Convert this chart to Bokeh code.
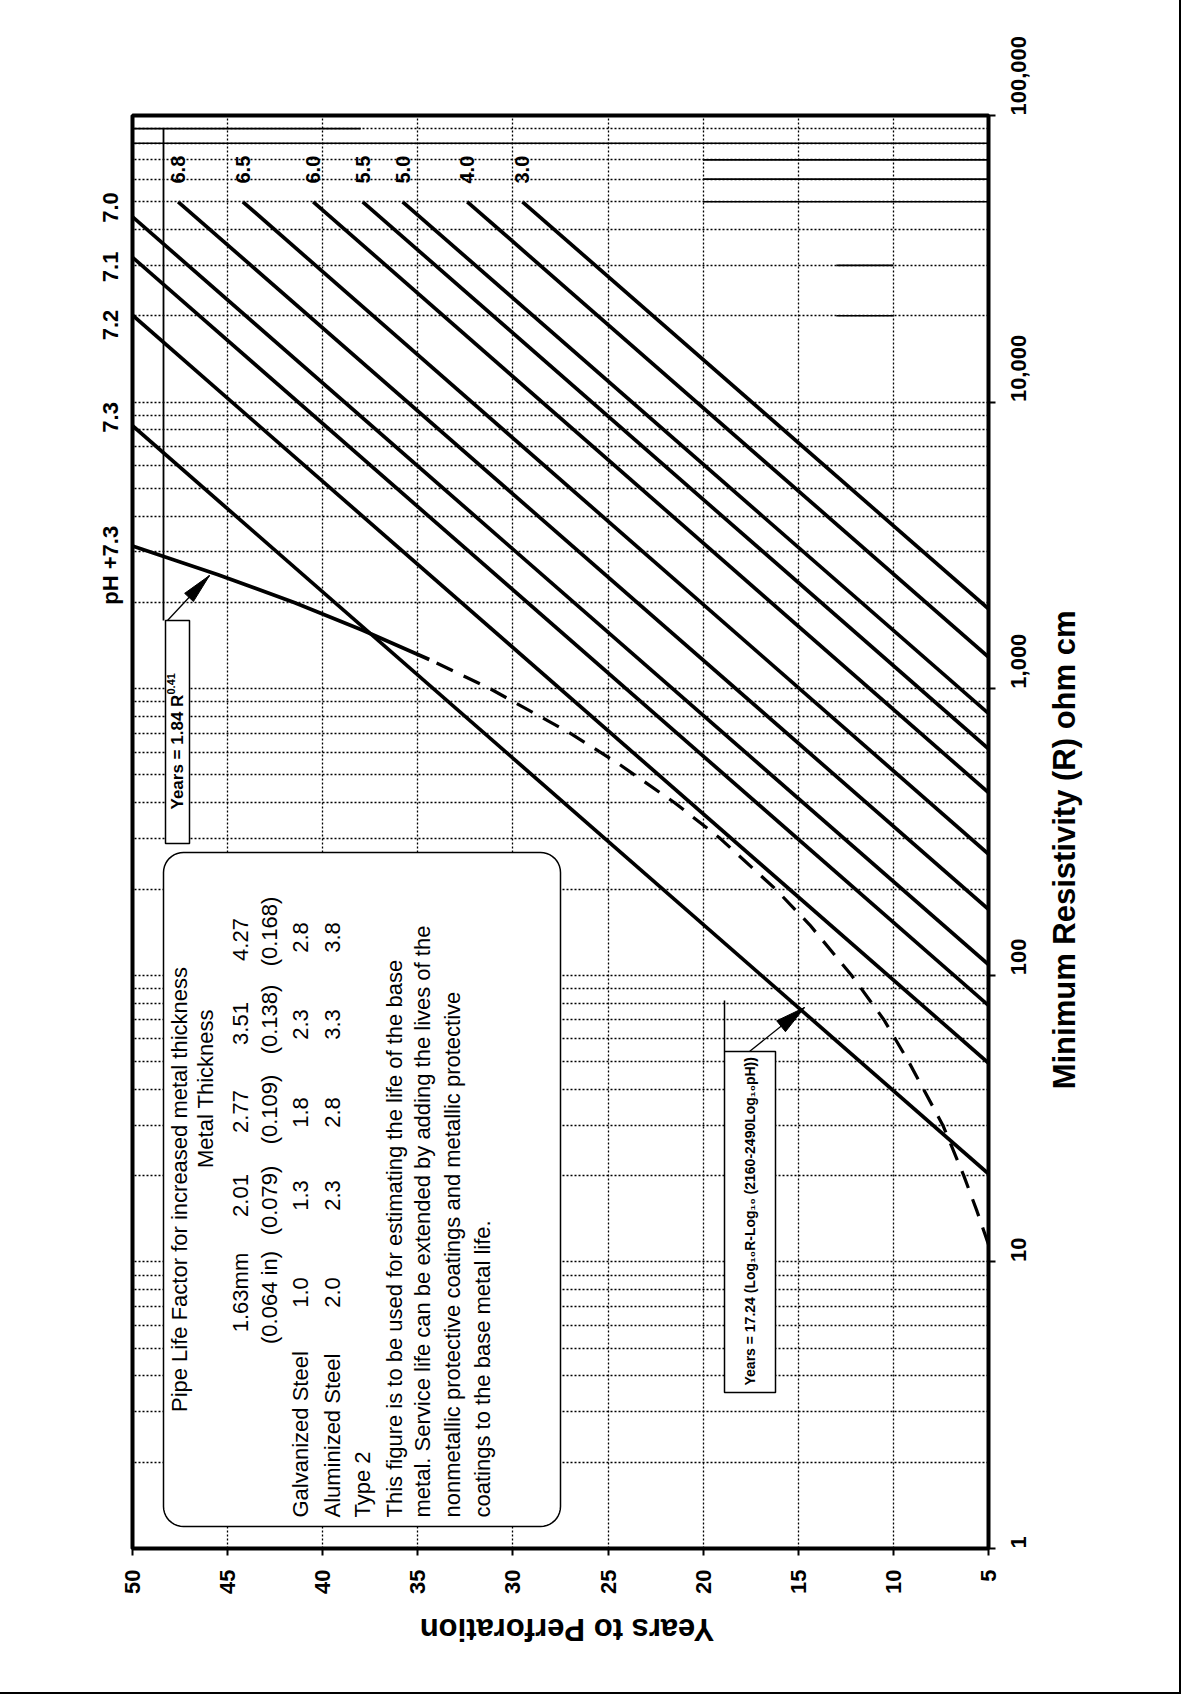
import math
from bokeh.plotting import figure
from bokeh.models import Range1d, FixedTicker, NumeralTickFormatter, LinearAxis, LogAxis
from bokeh.core.properties import value
from bokeh.embed import file_html
from bokeh.resources import INLINE

# ---------------- data ----------------
years_ticks = [50, 45, 40, 35, 30, 25, 20, 15, 10, 5]
resist_ticks = [1, 10, 100, 1000, 10000, 100000]
resist_tick_labels = ["1", "10", "100", "1,000", "10,000", "100,000"]

# straight pH lines: start (years, R) -> end (years, R)
ph_labels = ["3.0", "4.0", "5.0", "5.5", "6.0", "6.5", "6.8", "7.0", "7.1", "7.2", "7.3"]
ph_start_years = [29.5, 32.4, 35.8, 37.9, 40.5, 44.2, 47.6, 50.0, 50.0, 50.0, 50.0]
ph_start_R = [50000, 50000, 50000, 50000, 50000, 50000, 50000, 44300, 32000, 20100, 8270]
ph_end_years = [5.0, 5.0, 5.0, 5.0, 5.0, 5.0, 5.0, 5.0, 5.0, 5.0, 5.0]
ph_end_R = [1900, 1290, 820, 617, 434, 265, 170, 109, 78.5, 49.4, 20.3]

inner_label_names = ["6.8", "6.5", "6.0", "5.5", "5.0", "4.0", "3.0"]
inner_label_years = [47.6, 44.2, 40.5, 37.9, 35.8, 32.4, 29.5]

outer_label_names = ["7.0", "7.1", "7.2", "7.3", "pH +7.3"]
outer_label_R = [54000, 33500, 21000, 10000, 3700]

# Years = 1.84 R^0.41 curve
curve_solid_R = [1265, 1600, 2000, 2500, 3150]
curve_solid_years = [34.4, 37.9, 41.5, 45.5, 50.0]
curve_dash_R = [11.5, 15, 20, 30, 50, 70, 100, 150, 200, 300, 400, 550, 700, 1000, 1265]
curve_dash_years = [5.0, 5.6, 6.3, 7.4, 9.2, 10.5, 12.2, 14.4, 16.2, 19.1, 21.5, 24.5, 27.0, 31.2, 34.4]

# solid horizontal rules printed on the chart
rule_R = [90000, 80000, 70000, 60000, 50000, 30000, 20000]
rule_from_years = [50, 50, 20, 20, 20, 13, 13]
rule_to_years = [38, 5, 5, 5, 5, 10, 10]

# table
thickness_mm = ["1.63mm", "2.01", "2.77", "3.51", "4.27"]
thickness_in = ["(0.064 in)", "(0.079)", "(0.109)", "(0.138)", "(0.168)"]
galvanized = ["1.0", "1.3", "1.8", "2.3", "2.8"]
aluminized = ["2.0", "2.3", "2.8", "3.3", "3.8"]

x_title = "Years to Perforation"
y_title = "Minimum Resistivity (R) ohm cm"

# ---------------- layout helpers (page pixels -> data) ----------------
FL, FR, FT, FB = 140, 996, 123, 1556
W, H = 1176, 1689


def X(px):
    return 50 - (px - FL) * 45.0 / (FR - FL)


def Y(py):
    return 10 ** ((FB - py) * 5.0 / (FB - FT))


FONT = "Liberation Sans"
BLACK = "#000000"

p = figure(width=W, height=H, x_range=Range1d(50, 5), y_range=Range1d(1, 100000),
           y_axis_type="log", y_axis_location="right", x_axis_location="below",
           output_backend="svg", toolbar_location=None,
           min_border_left=FL - 8, min_border_right=W - (FR - 8),
           min_border_top=FT - 8, min_border_bottom=H - (FB - 8))
p.background_fill_color = "white"
p.border_fill_color = "white"
p.outline_line_color = BLACK
p.outline_line_width = 4
p.styles = {"outline": "2px solid black", "outline-offset": "3px"}


def style_axis(ax, size="22px", standoff=14, ticks=True):
    ax.major_label_text_font = FONT
    ax.major_label_text_font_style = "bold"
    ax.major_label_text_font_size = size
    ax.major_label_text_color = BLACK
    ax.major_label_standoff = standoff
    ax.minor_tick_line_color = None
    if ticks:
        ax.major_tick_out = 7
        ax.major_tick_in = 0
        ax.major_tick_line_width = 2
        ax.axis_line_width = 3
    else:
        ax.major_tick_line_color = None
        ax.axis_line_color = None


xa = p.xaxis[0]
xa.ticker = FixedTicker(ticks=years_ticks, minor_ticks=[])
xa.major_label_orientation = math.pi / 2
style_axis(xa, standoff=14)

ya = p.yaxis[0]
ya.ticker = FixedTicker(ticks=resist_ticks, minor_ticks=[])
ya.formatter = NumeralTickFormatter(format="0,0")
ya.major_label_overrides = {t: l for t, l in zip(resist_ticks, resist_tick_labels)}
ya.major_label_orientation = math.pi / 2
style_axis(ya, standoff=23)

# pH labels in the left margin (as an axis of their own)
left_ax = LogAxis(ticker=FixedTicker(ticks=outer_label_R, minor_ticks=[]),
                  major_label_overrides={r: n for r, n in zip(outer_label_R, outer_label_names)},
                  major_label_orientation=math.pi / 2)
style_axis(left_ax, size="22px", standoff=16, ticks=False)
p.add_layout(left_ax, "left")

# axis titles (upside-down bottom title, bottom-to-top right title);
# the label is anchored at one end, so the tick sits at that end
XT_TICK = 34.9
xt = LinearAxis(ticker=FixedTicker(ticks=[XT_TICK], minor_ticks=[]),
                major_label_overrides={XT_TICK: x_title}, major_label_orientation=math.pi)
style_axis(xt, size="31px", standoff=27, ticks=False)
p.add_layout(xt, "below")

YT_TICK = 40
yt = LogAxis(ticker=FixedTicker(ticks=[YT_TICK], minor_ticks=[]),
             major_label_overrides={YT_TICK: y_title}, major_label_orientation=math.pi / 2)
style_axis(yt, size="31px", standoff=22, ticks=False)
p.add_layout(yt, "right")

grid_years = [45, 40, 35, 30, 25, 20, 15, 10]
grid_R = [m * 10 ** k for k in range(0, 5) for m in range(1, 10)]
p.xgrid.ticker = FixedTicker(ticks=grid_years)
p.ygrid.ticker = FixedTicker(ticks=grid_R)
for g in (p.xgrid[0], p.ygrid[0]):
    g.grid_line_color = BLACK
    g.grid_line_dash = "2 2"
    g.grid_line_width = 1.3
    g.grid_line_alpha = 1.0

# solid rules
p.segment(x0=rule_from_years, y0=rule_R, x1=rule_to_years, y1=rule_R,
          line_color=BLACK, line_width=1.6)

# pH lines
p.segment(x0=ph_start_years, y0=ph_start_R, x1=ph_end_years, y1=ph_end_R,
          line_color=BLACK, line_width=3.7)

# curve
p.line(curve_solid_years, curve_solid_R, line_color=BLACK, line_width=3.7)
p.line(curve_dash_years, curve_dash_R, line_color=BLACK, line_width=3.2, line_dash="18 12")

# vertical leader line to first box
p.line([X(171), X(171)], [90000, Y(628)], line_color=BLACK, line_width=1.8)


def rounded_rect(x0, y0, x1, y1, r, n=10):
    pts = []
    corners = [(x1 - r, y0 + r, -90, 0), (x1 - r, y1 - r, 0, 90),
               (x0 + r, y1 - r, 90, 180), (x0 + r, y0 + r, 180, 270)]
    for cx, cy, a0, a1 in corners:
        for i in range(n + 1):
            a = math.radians(a0 + (a1 - a0) * i / n)
            pts.append((cx + r * math.cos(a), cy + r * math.sin(a)))
    return [X(a) for a, b in pts], [Y(b) for a, b in pts]


def arrow(sx, sy, tx, ty, length, half):
    p.line([X(sx), X(tx)], [Y(sy), Y(ty)], line_color=BLACK, line_width=1.3)
    dx, dy = tx - sx, ty - sy
    L = math.hypot(dx, dy)
    ux, uy = dx / L, dy / L
    bx, by = tx - length * ux, ty - length * uy
    nx, ny = -uy, ux
    pts = [(tx, ty), (bx + half * nx, by + half * ny), (bx - half * nx, by - half * ny)]
    p.patch([X(a) for a, b in pts], [Y(b) for a, b in pts], fill_color=BLACK, line_color=BLACK)


# box 1 : Years = 1.84 R^0.41
p.quad(left=X(173), right=X(197), top=Y(628), bottom=Y(851),
       fill_color="white", line_color=BLACK, line_width=1.5)
arrow(175, 628, 217, 583, 30, 6)

# main rounded box
bx, by = rounded_rect(171, 860, 568, 1534, 20)
p.patch(bx, by, fill_color="white", line_color=BLACK, line_width=1.5)

# box 2 : Years = 17.24(...)
p.quad(left=X(732), right=X(783), top=Y(1059), bottom=Y(1400),
       fill_color="white", line_color=BLACK, line_width=1.5)
p.line([X(732), X(732)], [Y(1008), Y(1059)], line_color=BLACK, line_width=1.5)
arrow(757, 1059, 812, 1015, 30, 7)


def rtext(px, py, txt, size, align="center", style="normal", font=FONT):
    p.text(x=[X(px)], y=[Y(py)], text=[txt], angle=math.pi / 2,
           text_align=align, text_baseline="middle",
           text_font=value(font), text_font_size=size, text_font_style=style,
           text_color=BLACK)


# pH labels inside the frame (bottom end of each label just above the line starts)
for name, yr in zip(inner_label_names, inner_label_years):
    p.text(x=[yr], y=[Y(191)], text=[name], angle=math.pi / 2, text_align="left",
           text_baseline="middle", text_font=value(FONT), text_font_size="20px",
           text_font_style="bold", text_color=BLACK)

# box texts
rtext(185, 817, "Years = 1.84 R", "17px", align="left", style="bold")
rtext(178, 702, "0.41", "11px", align="left", style="bold")
rtext(757, 1393, "Years = 17.24 (Log\u2081\u2080R-Log\u2081\u2080 (2160-2490Log\u2081\u2080pH))", "14px",
      align="left", style="bold")

rtext(187, 1197, "Pipe Life Factor for increased metal thickness", "22px")
rtext(213, 1096, "Metal Thickness", "22px")
mm_y = [1300, 1203, 1119, 1031, 947]
in_y = [1305, 1208, 1117, 1027, 939]
val_y = [1300, 1203, 1120, 1032, 945]
for t, yy in zip(thickness_mm, mm_y):
    rtext(248, yy, t, "22px")
for t, yy in zip(thickness_in, in_y):
    rtext(277, yy, t, "22px")
rtext(308, 1525, "Galvanized Steel", "22px", align="left")
for t, yy in zip(galvanized, val_y):
    rtext(308, yy, t, "22px")
rtext(340, 1525, "Aluminized Steel", "22px", align="left")
for t, yy in zip(aluminized, val_y):
    rtext(340, yy, t, "22px")
rtext(370, 1525, "Type 2", "22px", align="left")
rtext(402, 1525, "This figure is to be used for estimating the life of the base", "22px", align="left")
rtext(430, 1525, "metal.  Service life can be extended by adding the lives of the", "22px", align="left")
rtext(460, 1525, "nonmetallic protective coatings and metallic protective", "22px", align="left")
rtext(490, 1525, "coatings  to the base metal life.", "22px", align="left")

open("out.html", "w").write(file_html(p, INLINE))
